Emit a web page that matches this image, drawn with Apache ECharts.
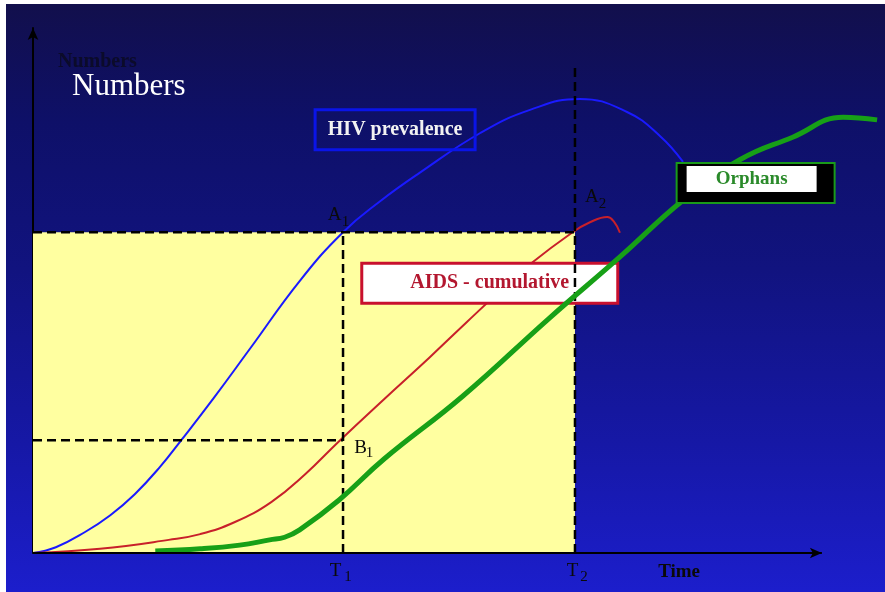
<!DOCTYPE html>
<html>
<head>
<meta charset="utf-8">
<script src="https://cdn.jsdelivr.net/npm/echarts@6/dist/echarts.min.js"></script>
<style>
    html, body { margin: 0; padding: 0; background: #fff; }
    #chart {
        position: absolute; left: 6px; top: 4px; width: 879px; height: 588px;
        background: linear-gradient(to bottom, #120f4c 0%, #0e1068 20%, #11137f 45%, #1618a6 75%, #1c1ecc 100%);
    }
</style>
</head>
<body>
<div id="chart"></div>
<script>
// Reference levels (time on x, numbers on y)
const T1 = 39.3, T2 = 68.7;
const A1_LEVEL = 61.1, B1_LEVEL = 21.5, T2_TOP = 92.6;
const TIME_AXIS_END = 100;   // arrow tip of the time axis

// [time, numbers]
const hivPrevalence = [
    [0, 0], [2.9, 1.1], [6.6, 4.0], [9.8, 7.2], [12.9, 11.2], [16.1, 16.4],
    [18.8, 21.5], [22.9, 29.5], [27.5, 38.9], [33.8, 51.8], [39.3, 61.1],
    [44.0, 67.0], [49.0, 72.4], [56.7, 80.0], [63.0, 84.4], [69.3, 86.5],
    [75.3, 84.0], [79.5, 79.4], [82.4, 74.5]
];
const aidsCumulative = [
    [0, 0], [8.5, 0.8], [17.2, 2.5], [21.2, 3.6], [25.6, 5.9], [30.2, 9.7],
    [34.5, 15.0], [38.8, 21.3], [44.5, 29.3], [50.3, 37.3], [55.0, 44.0],
    [59.2, 49.9], [63.0, 55.0], [68.4, 61.1], [70.6, 63.0], [72.8, 64.0],
    [73.6, 63.2], [74.4, 61.0]
];
const orphans = [
    [15.5, 0.4], [21.2, 0.8], [26.2, 1.5], [30.0, 2.5], [31.9, 3.0], [33.8, 4.4],
    [38.8, 10.1], [44.5, 17.9], [54.5, 29.9], [65.5, 44.8], [74.4, 56.4],
    [82.4, 67.2], [89.6, 74.9], [96.3, 79.2], [102.7, 83.0], [107.0, 82.5]
];

// Series boxes, anchored at their centre in data units
const boxLabels = [
    { text: 'HIV prevalence', at: [45.9, 80.6] },
    { text: 'AIDS - cumulative', at: [57.9, 51.4] },
    { text: 'Orphans', at: [91.6, 70.5] }
];
// Point labels: main letter + subscript, anchored in data units
const pointLabels = [
    { main: 'A', sub: '1', at: [T1, A1_LEVEL] },
    { main: 'A', sub: '2', at: [T2, A1_LEVEL] },
    { main: 'B', sub: '1', at: [T1, B1_LEVEL] },
    { main: 'T', sub: '1', at: [T1, 0] },
    { main: 'T', sub: '2', at: [T2, 0] }
];
const timeLabel = { text: 'Time', at: [81.9, 0] };

const SERIF = '"Liberation Serif", "DejaVu Serif", serif';
const chart = echarts.init(document.getElementById('chart'), null, { renderer: 'canvas' });

const dashed = (data) => ({
    type: 'line', data, symbol: 'none', z: 3, silent: true,
    lineStyle: { color: '#000', width: 2.5, type: [9, 5] }
});

chart.setOption({
    backgroundColor: 'transparent',
    animation: false,
    grid: { left: 27, top: 24, right: 0, bottom: 39 },
    xAxis: {
        type: 'value', min: 0, max: 108,
        axisLine: { show: false }, axisTick: { show: false },
        axisLabel: { show: false }, splitLine: { show: false }
    },
    yAxis: {
        type: 'value', min: 0, max: 100,
        axisLine: { show: true, symbol: ['none', 'arrow'], symbolSize: [8, 12],
            lineStyle: { color: '#000', width: 2 } },
        axisTick: { show: false }, axisLabel: { show: false }, splitLine: { show: false }
    },
    series: [
        {   // yellow box below A1, left of T2 (+ time axis with arrow)
            type: 'line', data: [[0, A1_LEVEL], [T2, A1_LEVEL]], symbol: 'none', z: 1,
            lineStyle: { width: 0 }, areaStyle: { color: '#ffffa0', opacity: 1 },
            markLine: {
                silent: true, symbol: ['none', 'arrow'], symbolSize: [8, 12],
                label: { show: false },
                lineStyle: { color: '#000', width: 2, type: 'solid' },
                data: [[{ coord: [0, 0] }, { coord: [TIME_AXIS_END, 0] }]]
            }
        },
        dashed([[0, A1_LEVEL], [T2, A1_LEVEL]]),
        dashed([[T1, 0], [T1, A1_LEVEL]]),
        dashed([[0, B1_LEVEL], [T1, B1_LEVEL]]),
        dashed([[T2, 0], [T2, T2_TOP]]),
        { name: 'HIV prevalence', type: 'line', data: hivPrevalence, smooth: 0.45, symbol: 'none', z: 2,
          lineStyle: { color: '#1a1aff', width: 2 } },
        { name: 'AIDS - cumulative', type: 'line', data: aidsCumulative, smooth: 0.45, symbol: 'none', z: 2,
          lineStyle: { color: '#c8202a', width: 2 } },
        { name: 'Orphans', type: 'line', data: orphans, smooth: 0.45, symbol: 'none', z: 4,
          lineStyle: { color: '#17a017', width: 5 } }
    ]
});

const px = p => chart.convertToPixel({ gridIndex: 0 }, p);
const graphic = [];

// Title "Numbers" (dark blurred copy behind, white on top)
graphic.push({ type: 'text', x: 52, y: 58, z: 10, style: {
    text: 'Numbers', font: 'bold 20px ' + SERIF, fill: '#0b0b2a', verticalAlign: 'middle',
    shadowBlur: 4, shadowColor: '#000' } });
graphic.push({ type: 'text', x: 66, y: 83, z: 10, style: {
    text: 'Numbers', font: '31px ' + SERIF, fill: '#ffffff', verticalAlign: 'middle' } });

// Series boxes
const [hiv, aids, orph] = boxLabels.map(b => px(b.at));
graphic.push(
    { type: 'rect', x: hiv[0], y: hiv[1], z: 3, shape: { x: -80, y: -20, width: 160, height: 40 },
      style: { fill: 'none', stroke: '#0a14e8', lineWidth: 3 } },
    { type: 'text', x: hiv[0], y: hiv[1], z: 3, style: { text: boxLabels[0].text,
      font: 'bold 20px ' + SERIF, fill: '#f2f2f2', align: 'center', verticalAlign: 'middle' } },
    { type: 'rect', x: aids[0], y: aids[1], z: 3, shape: { x: -128, y: -20, width: 256, height: 40 },
      style: { fill: '#ffffff', stroke: '#c8102e', lineWidth: 3 } },
    { type: 'text', x: aids[0], y: aids[1], z: 3, style: { text: boxLabels[1].text,
      font: 'bold 20px ' + SERIF, fill: '#b3172f', align: 'center', verticalAlign: 'middle' } },
    { type: 'rect', x: orph[0], y: orph[1], z: 5, shape: { x: -79, y: -20, width: 158, height: 40 },
      style: { fill: '#000000', stroke: '#1a9a1a', lineWidth: 2 } },
    { type: 'rect', x: orph[0], y: orph[1], z: 5, shape: { x: -69, y: -17, width: 130, height: 26 },
      style: { fill: '#ffffff' } },
    { type: 'text', x: orph[0] - 4, y: orph[1] - 4, z: 5, style: { text: boxLabels[2].text,
      font: 'bold 19px ' + SERIF, fill: '#2a8a2a', align: 'center', verticalAlign: 'middle' } }
);

// Point labels with subscripts: offsets from the anchor point in pixels
const labelOffsets = [
    [[-8.5, -17], [2.5, -10]],
    [[17, -35], [27.5, -28]],
    [[17.5, 7.5], [26.5, 12.5]],
    [[-7.5, 18.5], [5, 24]],
    [[-2.5, 18.5], [9, 24]]
];
pointLabels.forEach((l, i) => {
    const p = px(l.at);
    const [m, s] = labelOffsets[i];
    graphic.push({ type: 'text', x: p[0] + m[0], y: p[1] + m[1], z: 6, style: {
        text: l.main, font: '19px ' + SERIF, fill: '#0a0a0a', align: 'center', verticalAlign: 'middle' } });
    graphic.push({ type: 'text', x: p[0] + s[0], y: p[1] + s[1], z: 6, style: {
        text: l.sub, font: '15px ' + SERIF, fill: '#0a0a0a', align: 'center', verticalAlign: 'middle' } });
});
const tp = px(timeLabel.at);
graphic.push({ type: 'text', x: tp[0], y: tp[1] + 19, z: 6, style: {
    text: timeLabel.text, font: 'bold 19px ' + SERIF, fill: '#0a0a0a', align: 'center', verticalAlign: 'middle' } });

chart.setOption({ graphic });
</script>
</body>
</html>
